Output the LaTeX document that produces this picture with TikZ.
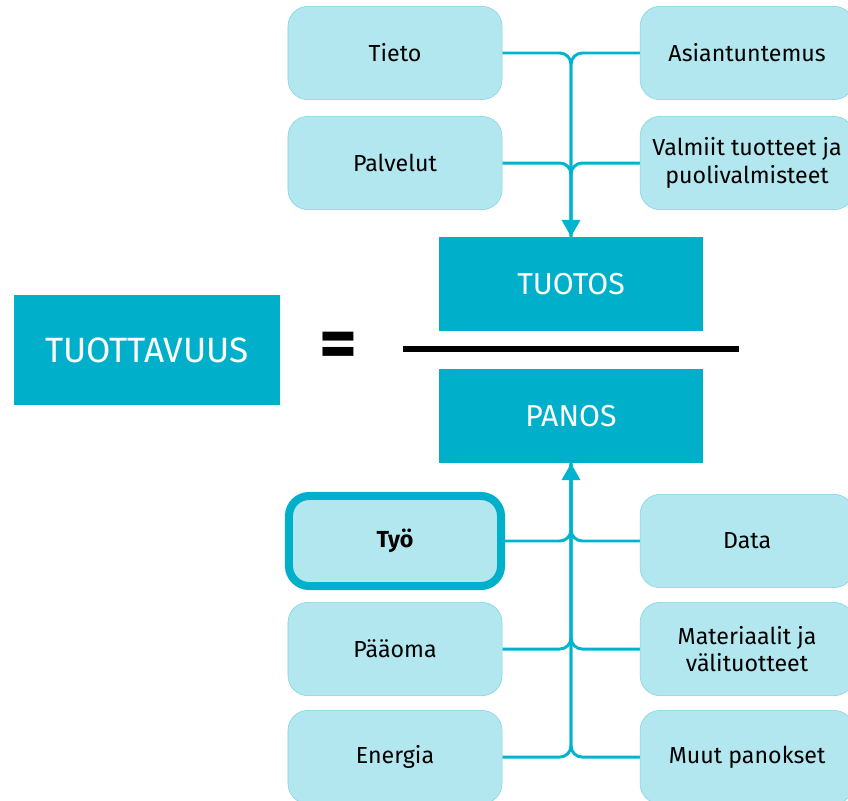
\documentclass[tikz,border=0pt]{standalone}
\usepackage{fontspec}
\setmainfont{Fira Sans}
\usepackage{tikz}
\usetikzlibrary{positioning,arrows.meta}
\pgfdeclarelayer{background}
\pgfsetlayers{background,main}
\definecolor{tuocyan}{HTML}{00B0CB}
\definecolor{boxfill}{HTML}{B3E7EF}
\definecolor{boxline}{HTML}{7FD3E3}
\definecolor{connline}{HTML}{00B4CF}

\begin{document}
\begin{tikzpicture}[x=0.025cm, y=-0.025cm, node distance=2.7cm]
\tikzstyle{input}=[draw=boxline, fill=boxfill, rounded corners=0.5cm, minimum width=5.35cm, minimum height=2.33cm, align=center, font=\fontsize{16.5}{19.5}\selectfont]
\tikzstyle{result}=[fill=tuocyan, text=white, minimum width=6.6cm, minimum height=2.35cm, font=\fontsize{21.5}{25}\selectfont]
\tikzstyle{conn}=[draw=connline, line width=2.1pt, rounded corners=8pt]
\useasboundingbox (0,0) rectangle (848,801);
\clip (0,0) rectangle (848,801);

% ratio
\node[result] (tuotos) at (571,284) {TUOTOS};
\node[result] (panos) at (571,416) {PANOS};
\node[result, minimum width=6.65cm, minimum height=2.73cm, font=\fontsize{25}{29}\selectfont] (tuottavuus) at (147,350) {TUOTTAVUUS};
\node[font=\bfseries\fontsize{52}{52}\selectfont] (eq) at (338,350) {=};
\coordinate (jakol) at (403,349);
\coordinate (jakor) at (739,349);
\draw[line width=4.3pt] (jakol) -- (jakor);

% outputs
\node[input] (tieto) at (395,53) {Tieto};
\node[input] (asian) [right of=tieto, node distance=8.8cm] {Asiantuntemus};
\node[input] (palvelut) [below of=tieto, node distance=2.75cm] {Palvelut};
\node[input] (valmiit) [right of=palvelut, node distance=8.8cm] {Valmiit tuotteet ja\\puolivalmisteet};

% inputs
\node[input, draw=tuocyan, line width=5.7pt, minimum width=5.3cm, minimum height=2.25cm, font=\bfseries\fontsize{16.5}{19.5}\selectfont] (tyo) at (395,541) {Työ};
\node[input] (data) [right of=tyo, node distance=8.8cm] {Data};
\node[input] (paaoma) [below of=tyo] {Pääoma};
\node[input] (materiaalit) [right of=paaoma, node distance=8.8cm] {Materiaalit ja\\välituotteet};
\node[input] (energia) [below of=paaoma] {Energia};
\node[input] (muut) [right of=energia, node distance=8.8cm] {Muut panokset};

\begin{pgfonlayer}{background}
\draw[conn, -{Triangle[length=12pt,width=13pt]}] (tieto.east) -| (tuotos.north);
\draw[conn] (asian.west) -| (tuotos.north);
\draw[conn] (palvelut.east) -| (tuotos.north);
\draw[conn] (valmiit.west) -| (tuotos.north);

\draw[conn, -{Triangle[length=12pt,width=13pt]}] (energia.east) -| (panos.south);
\draw[conn] (muut.west) -| (panos.south);
\draw[conn] (paaoma.east) -| (panos.south);
\draw[conn] (materiaalit.west) -| (panos.south);
\draw[conn] (tyo.east) -| (panos.south);
\draw[conn] (data.west) -| (panos.south);
\end{pgfonlayer}
\end{tikzpicture}
\end{document}
